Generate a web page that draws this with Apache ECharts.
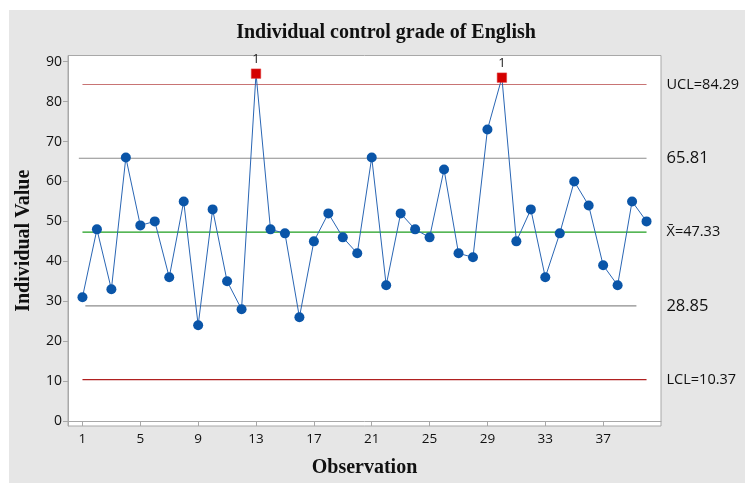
<!DOCTYPE html>
<html>
<head>
<meta charset="utf-8">
<script src="https://cdn.jsdelivr.net/npm/echarts@6/dist/echarts.min.js"></script>
<style>
html,body{margin:0;padding:0;background:#fff;}
#chart{width:745px;height:483px;}
</style>
</head>
<body>
<div id="chart"></div>
<script>
// ---- data ----
const observations = [1,2,3,4,5,6,7,8,9,10,11,12,13,14,15,16,17,18,19,20,21,22,23,24,25,26,27,28,29,30,31,32,33,34,35,36,37,38,39,40];
const values = [31,48,33,66,49,50,36,55,24,53,35,28,87,48,47,26,45,52,46,42,66,34,52,48,46,63,42,41,73,86,45,53,36,47,60,54,39,34,55,50];
const outOfControl = [13,30];
const xTicks = [1,5,9,13,17,21,25,29,33,37];
const yTicks = [0,10,20,30,40,50,60,70,80,90];
const UCL = 84.29;
const plus2 = 65.81;
const meanX = 47.33;
const minus2 = 28.85;
const LCL = 10.37;

const mainData = observations.map((o,i)=>{
  if (outOfControl.includes(o)) {
    return {value:[o,values[i]], symbol:'rect', symbolSize:9.5,
      itemStyle:{color:'#d40000', borderColor:'#e04040', borderWidth:0.5},
      label:{show:true, formatter:'1', position:'top', distance:3, color:'#222', fontSize:13, fontFamily:'Open Sans'}};
  }
  return {value:[o,values[i]]};
});

function limitLine(y, x0, x1, color, text, dist, fs){
  return {
    type:'line', silent:true, symbol:'none', z:1,
    data:[[x0,y],[x1,y]],
    lineStyle:{color:color, width:1.2},
    endLabel:{show:true, formatter:text, distance:dist, color:'#111', fontSize:fs, fontFamily:'Open Sans'},
    animation:false
  };
}

const chart = echarts.init(document.getElementById('chart'));
chart.setOption({
  animation:false,
  backgroundColor:'#fff',
  graphic:[{type:'rect', z:-100, silent:true, shape:{x:9,y:10,width:736,height:473}, style:{fill:'#e6e6e6'}}],
  title:{text:'Individual control grade of English', left:381, textAlign:'center', top:18,
    textStyle:{fontFamily:'Liberation Serif', fontWeight:'bold', fontSize:20, color:'#111'}},
  grid:{left:68, top:55.5, right:84, bottom:57, show:true, backgroundColor:'#fff', borderColor:'#a8a8a8', borderWidth:1, containLabel:false},
  xAxis:{type:'value', min:0, max:41,
    name:'Observation', nameLocation:'middle', nameGap:32,
    nameTextStyle:{fontFamily:'Liberation Serif', fontWeight:'bold', fontSize:20, color:'#111'},
    axisLine:{show:true, lineStyle:{color:'#a8a8a8'}},
    axisTick:{show:true, length:5, customValues:xTicks, lineStyle:{color:'#a8a8a8'}},
    axisLabel:{customValues:xTicks, margin:6, fontFamily:'Open Sans', fontSize:13.5, color:'#111'},
    splitLine:{show:false}},
  yAxis:{type:'value', min:-1.25, max:91.55,
    name:'Individual Value', nameLocation:'middle', nameGap:34, nameRotate:90,
    nameTextStyle:{fontFamily:'Liberation Serif', fontWeight:'bold', fontSize:20, color:'#111'},
    axisLine:{show:true, lineStyle:{color:'#a8a8a8'}},
    axisTick:{show:true, length:5, customValues:yTicks, lineStyle:{color:'#a8a8a8'}},
    axisLabel:{customValues:yTicks, margin:6, fontFamily:'Open Sans', fontSize:14, color:'#111'},
    splitLine:{show:false}},
  series:[
    limitLine(UCL, 1, 40, '#c87474', 'UCL=84.29', 20, 14.5),
    limitLine(plus2, 0.75, 40, '#8c8c8c', String(plus2), 20, 16.5),
    limitLine(meanX, 1, 40, '#1e9e1e', 'X\u0304=47.33', 20, 14.5),
    limitLine(minus2, 1.2, 39.3, '#8c8c8c', String(minus2), 30, 16.5),
    limitLine(LCL, 1, 40, '#b02020', 'LCL=10.37', 20, 14.5),
    {type:'line', z:5, data:mainData, symbol:'circle', symbolSize:10,
      itemStyle:{color:'#0a55a8'}, lineStyle:{color:'#2a66b4', width:1},
      clip:false}
  ]
});
</script>
</body>
</html>
